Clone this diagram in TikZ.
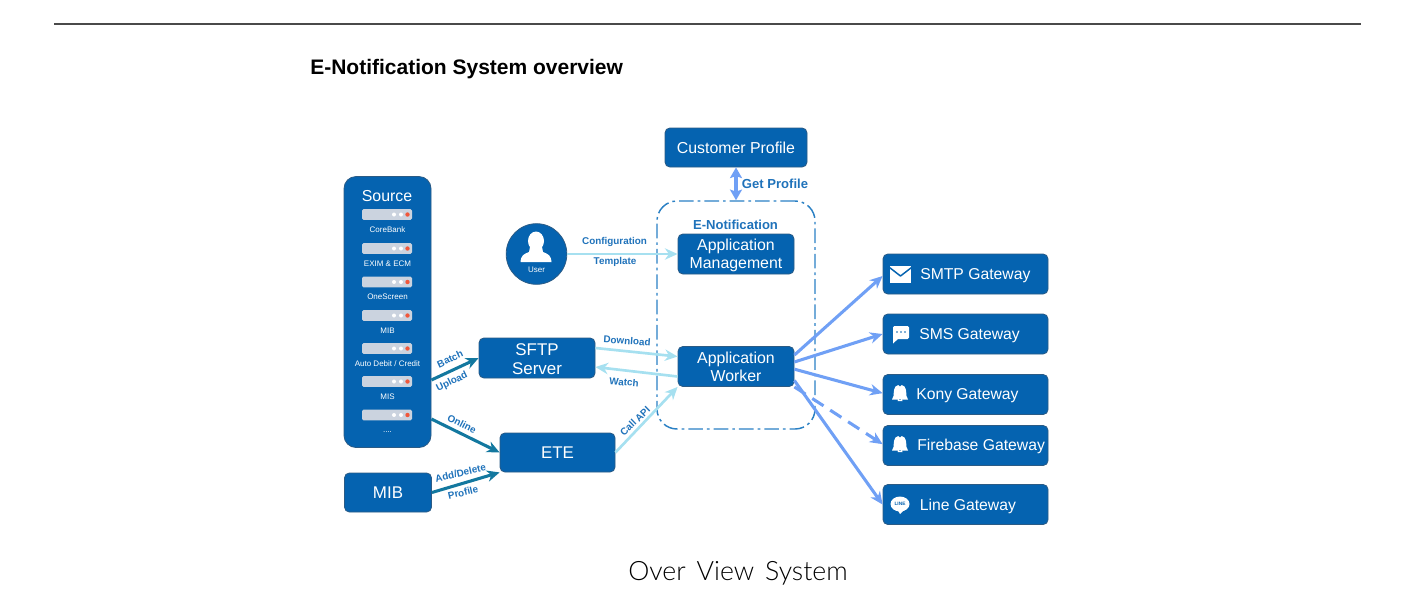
\documentclass[tikz,border=0pt]{standalone}
\usepackage{fontspec}
\setmainfont{Liberation Sans}
\newfontfamily\capfont[WordSpace=1.5]{Lato Light}
\usetikzlibrary{arrows.meta,calc}
\definecolor{boxblue}{HTML}{0563B0}
\definecolor{boxedge}{HTML}{2B5B85}
\definecolor{labblue}{HTML}{1F72BA}
\definecolor{dashblue}{HTML}{2A80C4}
\definecolor{tealarr}{HTML}{13789F}
\definecolor{skyarr}{HTML}{A6E0F0}
\definecolor{periarr}{HTML}{70A0F5}
\definecolor{srvgrey}{HTML}{CBD3DF}
\definecolor{srvred}{HTML}{F0583C}
\definecolor{rulegrey}{HTML}{4A4A4A}
\newcommand{\srvdots}{....}
\newcommand{\autodebit}{Auto Debit / Credit}
\newcommand{\lowerfirst}{\rule{0pt}{10.3pt}}
\tikzset{
  x=0.75pt,y=-0.75pt,
  bx/.style 2 args={draw=boxedge,line width=0.6pt,fill=boxblue,rounded corners=3.6pt,text=white,align=center,inner sep=0pt,
    minimum width=0.75*#1 pt,minimum height=0.75*#2 pt,font=\fontsize{11.9}{13.4}\selectfont},
  gw/.style={bx={165}{40}},
  gwtext/.style={text=white,anchor=west,inner sep=0pt,font=\fontsize{11.8}{13}\selectfont},
  srv/.style={fill=srvgrey,rounded corners=1.2pt,inner sep=0pt,minimum width=37.5pt,minimum height=8.2pt},
  srvlab/.style={text=white,inner sep=0pt,text height=4.4pt,text depth=1.3pt,font=\fontsize{6}{7}\selectfont},
  lab/.style={text=labblue,inner sep=0pt,font=\bfseries\fontsize{7.4}{9}\selectfont},
  biglab/.style={text=labblue,inner sep=0pt,font=\bfseries\fontsize{9.8}{11}\selectfont},
  tip/.style={-{Stealth[length=9.5pt,width=8.5pt,inset=3pt]}},
  dk/.style={tip,draw=tealarr,line width=2.3pt},
  sky/.style={tip,draw=skyarr,line width=2pt},
  peri/.style={tip,draw=periarr,line width=2.3pt},
}
\newcommand{\bellicon}[2]{\fill[white,shift={(#1,#2)}] (-1.8,-9) arc (180:0:1.8 and 1.5) -- (1.8,-9) .. controls (7,-8) and (6,-1) .. (6.5,2) -- (8,5.5) -- (-8,5.5) -- (-6.5,2) .. controls (-6,-1) and (-7,-8) .. (-1.8,-9) -- cycle (-2.5,7) -- (2.5,7) arc (0:-180:2.5 and 2.2) -- cycle;}
\begin{document}
\begin{tikzpicture}
\useasboundingbox (0,0) rectangle (1420,612);
\coordinate (ruleL) at (54,24); \coordinate (ruleR) at (1361,24);
\draw[rulegrey,line width=1pt] (ruleL) -- (ruleR);
\node[anchor=west,inner sep=0pt,font=\bfseries\fontsize{15.75}{18}\selectfont] (title) at (310,69) {E-Notification System overview};
\node[inner sep=0pt,font=\capfont\fontsize{20}{24}\selectfont] (caption) at (738,573) {Over View System};

% dash-dot container
\node[draw=dashblue,line width=1.1pt,dash pattern=on 11pt off 3pt on 2pt off 3pt,rounded corners=15pt,minimum width=118.5pt,minimum height=171pt,inner sep=0pt] (enot) at (736,315) {};

% boxes
\node[bx={142}{39}] (cust) at (736,147.5) {Customer Profile};
\node[bx={87}{271},rounded corners=9pt] (source) at (387.5,312) {};
\node[bx={87}{39},font=\fontsize{12.7}{14}\selectfont] (mib) at (388,492.5) {MIB};
\node[bx={116}{40},font=\fontsize{12.7}{14}\selectfont] (sftp) at (537,358) {\lowerfirst SFTP\\Server};
\node[bx={115}{39},font=\fontsize{12.7}{14}\selectfont] (ete) at (557.5,452.5) {ETE};
\node[bx={116}{40}] (mgmt) at (736,254) {\lowerfirst Application\\Management};
\node[bx={116}{40}] (worker) at (736,366.5) {Application\\Worker};
\node[gw] (smtp) at (965.5,274) {};
\node[gw] (sms) at (965.5,334) {};
\node[gw] (kony) at (965.5,394.5) {};
\node[gw] (fire) at (965.5,445.5) {};
\node[gw] (line) at (965.5,504.5) {};
\node[gwtext] (tsmtp) at (920,275.5) {SMTP Gateway};
\node[gwtext] (tsms) at (919,335.5) {SMS Gateway};
\node[gwtext] (tkony) at (916,395.5) {Kony Gateway};
\node[gwtext] (tfire) at (917,446.5) {Firebase Gateway};
\node[gwtext] (tline) at (919.5,506.5) {Line Gateway};

% user
\node[circle,draw=boxedge,line width=0.6pt,fill=boxblue,minimum size=45.5pt,inner sep=0pt] (user) at (536.5,254) {};
\fill[white] (536,241) ellipse (8 and 9.5);
\fill[white] (530,247) -- (542,247) -- (543,252) .. controls (548,254) and (551,255) .. (551.5,262) -- (520.5,262) .. controls (521,255) and (524,254) .. (529,252) -- cycle;
\node[text=white,inner sep=0pt,font=\fontsize{6}{7}\selectfont] (userlab) at (536.5,270) {User};

% source contents
\node[text=white,inner sep=0pt,font=\fontsize{11.9}{13}\selectfont] (srctitle) at (387,196.5) {Source};
\foreach \i/\y/\t in {1/214.5/CoreBank,2/248.5/EXIM \& ECM,3/282/OneScreen,4/315.5/MIB,5/348.5/\autodebit,6/381.5/MIS,7/415/\srvdots}{
  \node[srv] (srv\i) at (387,\y) {};
  \fill[white] (394,\y) circle (2) (401,\y) circle (2);
  \fill[srvred] (407.5,\y) circle (2.2);
  \node[srvlab] (srvt\i) at (387.5,\y+15.5) {\t};
}

% icons
\fill[white] (890,266) rectangle (911,283);
\draw[boxblue,line width=1.1pt,line join=round] (889.5,267.5) -- (900.5,276) -- (911.5,267.5);
\fill[white,rounded corners=1pt] (893,326) rectangle (909,339) ;
\fill[white] (893,337) -- (893,343.5) -- (899,338) -- cycle;
\fill[boxblue] (897,332) circle (0.9) (901,332) circle (0.9) (905,332) circle (0.9);
\bellicon{900}{394}
\bellicon{900}{445}
\fill[white] (900,504) ellipse (9.5 and 7.5);
\fill[white] (897,509) -- (900,514) -- (905,509) -- cycle;
\node[text=boxblue,inner sep=0pt,font=\bfseries\fontsize{3.6}{4}\selectfont] (linemark) at (900,504) {LINE};

% connectors
\draw[dk] ([yshift=-51pt]source.east) -- (sftp.west);
\draw[dk] ([yshift=-80.25pt]source.east) -- (ete.west);
\draw[dk] (mib.east) -- (ete.south west);
\draw[sky] (user.east) -- (mgmt.west);
\draw[sky] ([yshift=7.5pt]sftp.east) -- ([yshift=7.5pt]worker.west);
\draw[sky] ([yshift=-7.5pt]worker.west) -- ([yshift=-6.75pt]sftp.east);
\draw[sky] (ete.east) -- (worker.south west);
\draw[draw=periarr,line width=2.8pt,{Stealth[length=8pt,width=9pt,inset=1.5pt]}-{Stealth[length=8pt,width=9pt,inset=1.5pt]}] (cust.south) -- (enot.north);
\draw[peri] ([yshift=8.6pt]worker.east) -- ([yshift=-1.5pt]smtp.west);
\draw[peri] ([yshift=3.4pt]worker.east) -- (sms.west);
\draw[peri] ([yshift=-2pt]worker.east) -- ([yshift=1pt]kony.west);
\draw[peri,dash pattern=on 10pt off 6pt] (worker.south east) -- ([yshift=1pt]fire.west);
\draw[peri] ([yshift=-10.5pt]worker.east) -- (line.west);

% labels
\node[biglab] (lgp) at (775,184) {Get Profile};
\node[biglab] (lenot) at (735.5,225) {E-Notification};
\node[lab] (lconf) at (614.5,241.5) {Configuration};
\node[lab] (ltemp) at (615,261.5) {Template};
\node[lab,rotate=25] (lbatch) at (450,359) {Batch};
\node[lab,rotate=26] (lup) at (452,382) {Upload};
\node[lab,rotate=-27] (lon) at (462,424) {Online};
\node[lab,rotate=13] (ladd) at (460.5,473) {Add/Delete};
\node[lab,rotate=13] (lprof) at (463,492.5) {Profile};
\node[lab,rotate=-4] (ldown) at (627,341) {Download};
\node[lab,rotate=-5] (lwatch) at (624,382) {Watch};
\node[lab,rotate=44] (lapi) at (635,421) {Call API};
\end{tikzpicture}
\end{document}
